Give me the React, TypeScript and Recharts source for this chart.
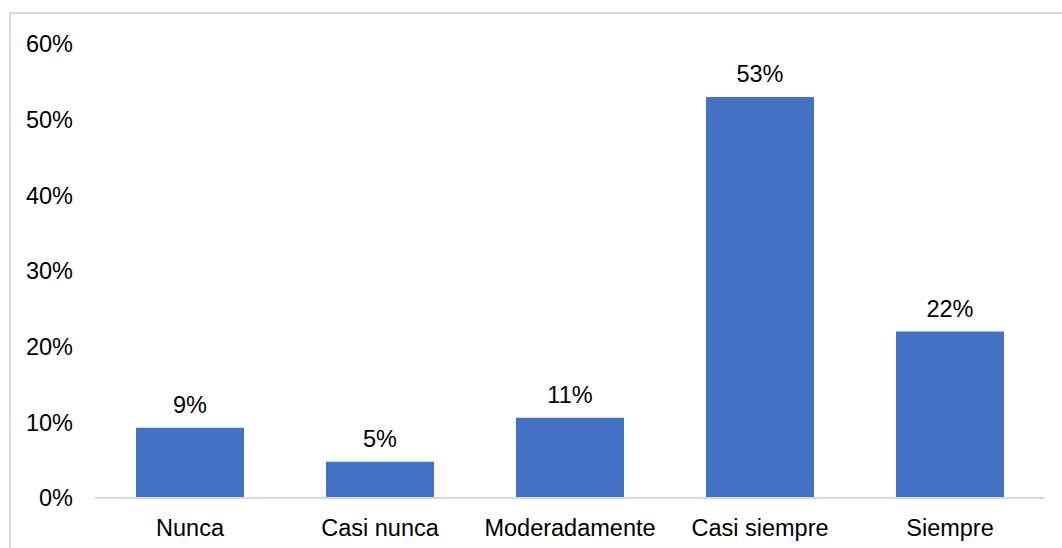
import { BarChart, Bar, XAxis, YAxis, LabelList } from 'recharts';

const categories = ['Nunca', 'Casi nunca', 'Moderadamente', 'Casi siempre', 'Siempre'];
const values = [0.093, 0.048, 0.106, 0.53, 0.22];
const labels = ['9%', '5%', '11%', '53%', '22%'];
const yTicks = [0, 0.1, 0.2, 0.3, 0.4, 0.5, 0.6];

const data = categories.map((name, i) => ({ name, value: values[i], label: labels[i] }));

const font = '"Liberation Sans", Arial, sans-serif';

export default function App() {
    return (
        <div style={{ position: 'absolute', left: 0, top: 0, width: 1062, height: 548, overflow: 'hidden', background: '#fff' }}>
            {/* chart frame, cut off at right and bottom */}
            <div style={{ position: 'absolute', left: 9, top: 12, width: 1100, height: 600, border: '2px solid #d9d9d9' }} />
            <div style={{ position: 'absolute', left: 0, top: 0 }}>
                <BarChart width={1062} height={548} data={data} margin={{ top: 44, right: 17, left: 0, bottom: 20 }} barCategoryGap={41}>
                    <XAxis
                        dataKey="name"
                        height={30}
                        tickLine={false}
                        tickSize={0}
                        tickMargin={21}
                        axisLine={{ stroke: '#d9d9d9', strokeWidth: 2 }}
                        tick={{ fontSize: 23.5, fill: '#000', fontFamily: font }}
                        interval={0}
                    />
                    <YAxis
                        domain={[0, 0.6]}
                        ticks={yTicks}
                        width={95}
                        axisLine={false}
                        tickLine={false}
                        tickSize={0}
                        tickMargin={22}
                        tickFormatter={(v: number) => `${Math.round(v * 100)}%`}
                        tick={{ fontSize: 23.5, fill: '#000', fontFamily: font }}
                    />
                    <Bar dataKey="value" fill="#4472C4" isAnimationActive={false}>
                        <LabelList dataKey="label" position="top" offset={15} style={{ fontSize: 23.5, fill: '#000', fontFamily: font }} />
                    </Bar>
                </BarChart>
            </div>
        </div>
    );
}
